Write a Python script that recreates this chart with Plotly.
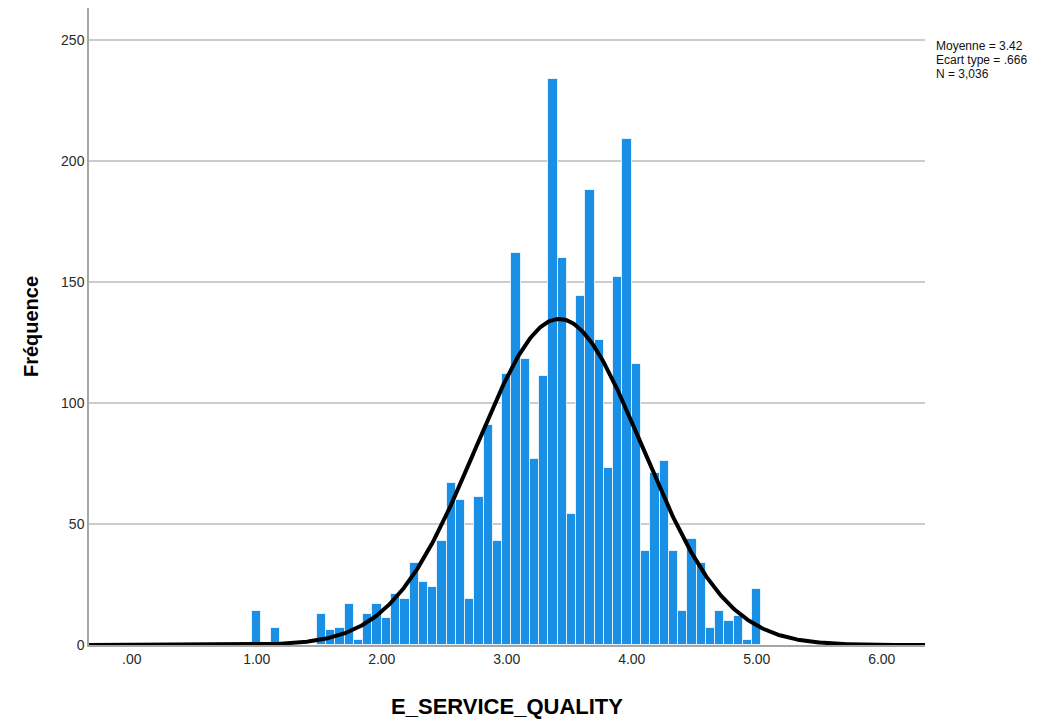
import numpy as np
import plotly.graph_objects as go

# Histogram of E_SERVICE_QUALITY: 55 bins of equal width, first bin centred on 1.00
first_center = 1.0
bin_width = 4.0 / 54
counts = [14, 0, 7, 0, 0, 0, 0, 13, 6, 7,
          17, 2, 13, 17, 11, 21, 19, 34, 26, 24,
          43, 67, 60, 19, 61, 91, 43, 112, 162, 118,
          77, 111, 234, 160, 54, 144, 188, 126, 73, 152,
          209, 116, 39, 71, 76, 39, 14, 44, 34, 7,
          14, 10, 12, 2, 23]

# Summary statistics shown beside the plot
mean = 3.42
std_dev = 0.666
n_obs = 3036
stats_lines = ["Moyenne = 3.42", "Ecart type = .666", "N = 3,036"]

x_tickvals = [0, 1, 2, 3, 4, 5, 6]
x_ticktext = [".00", "1.00", "2.00", "3.00", "4.00", "5.00", "6.00"]
y_tickvals = [0, 50, 100, 150, 200, 250]

centers = [first_center + i * bin_width for i in range(len(counts))]

x_range = [-0.342, 6.346]
y_range = [0, 263.2]

# Normal curve scaled to the histogram (N * bin width * density)
xs = np.linspace(x_range[0], x_range[1], 600)
curve = n_obs * bin_width * np.exp(-0.5 * ((xs - mean) / std_dev) ** 2) / (std_dev * np.sqrt(2 * np.pi))

FONT = "Liberation Sans, Arial, sans-serif"

fig = go.Figure()
fig.add_trace(go.Bar(
    x=centers, y=counts, width=bin_width,
    marker=dict(color="#1a8fe6", line=dict(color="rgba(255,255,255,0.75)", width=1)),
    showlegend=False, hoverinfo="x+y",
))
fig.add_trace(go.Scatter(
    x=xs, y=curve, mode="lines",
    line=dict(color="black", width=4),
    showlegend=False, hoverinfo="skip",
))

L, R, T, B = 89, 135, 8, 81
W, H = 1060, 726
plot_h = H - T - B
plot_w = W - L - R

annotations = []
for i, line in enumerate(stats_lines):
    ypx = 46 + 14 * i
    annotations.append(dict(
        text=line, xref="paper", yref="paper",
        x=(934 - L) / plot_w, y=(H - B - ypx) / plot_h,
        xanchor="left", yanchor="middle", showarrow=False,
        font=dict(family=FONT, size=12, color="#111111"),
    ))

fig.update_layout(
    width=W, height=H,
    margin=dict(l=L, r=R, t=T, b=B),
    paper_bgcolor="white", plot_bgcolor="white",
    bargap=0,
    font=dict(family=FONT, size=14, color="#2a2a2a"),
    annotations=annotations,
    xaxis=dict(
        range=x_range, tickvals=x_tickvals, ticktext=x_ticktext,
        showgrid=False, zeroline=False,
        showline=True, linecolor="#a6a6a6", linewidth=1.5,
        ticks="", tickfont=dict(family=FONT, size=14, color="#2a2a2a"),
        title=dict(text="<b>E_SERVICE_QUALITY</b>", standoff=33,
                   font=dict(family=FONT, size=22, color="black")),
    ),
    yaxis=dict(
        range=y_range, tickvals=y_tickvals,
        showgrid=True, gridcolor="#cccccc", gridwidth=1.5,
        zeroline=False,
        showline=True, linecolor="#a6a6a6", linewidth=1.5,
        ticks="", tickfont=dict(family=FONT, size=14, color="#2a2a2a"),
        title=dict(text="<b>Fréquence</b>", standoff=17,
                   font=dict(family=FONT, size=20, color="black")),
    ),
)

fig.write_html("out.html")
